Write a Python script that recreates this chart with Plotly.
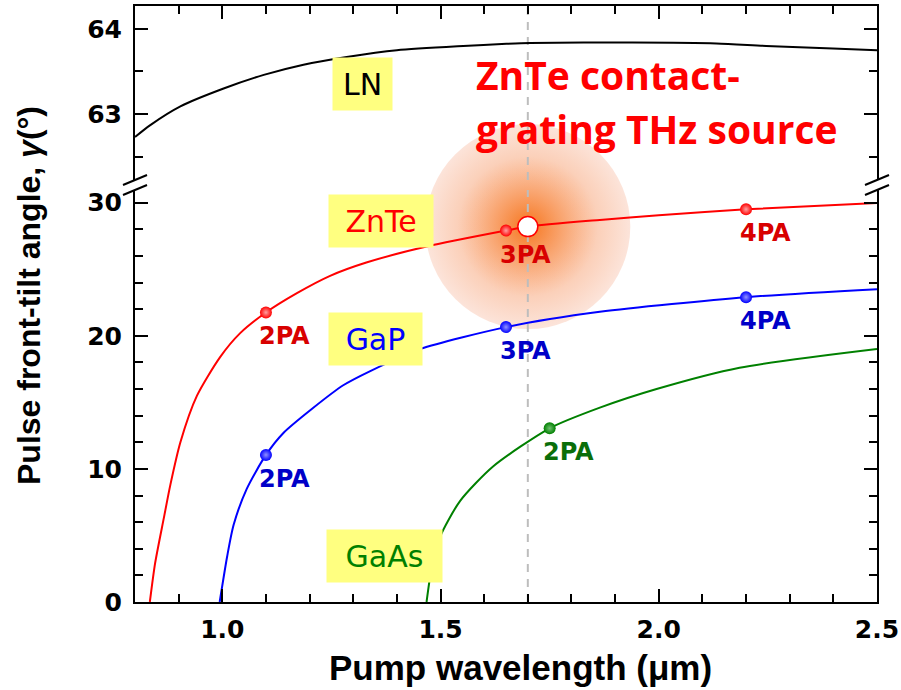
import plotly.graph_objects as go

# ---------------- data ----------------
znte_x = [0.834, 0.846, 0.866, 0.881, 0.904, 0.942, 0.995, 1.041, 1.10, 1.171, 1.247, 1.33, 1.468, 1.65, 1.70, 1.865, 2.0, 2.2, 2.5]
znte_y = [0.0, 2.9, 6.3, 8.8, 12.0, 15.5, 18.4, 20.2, 21.75, 23.2, 24.5, 25.5, 26.7, 27.9, 28.2, 28.7, 29.05, 29.5, 29.98]

gap_x = [0.994, 1.011, 1.026, 1.056, 1.10, 1.14, 1.205, 1.278, 1.339, 1.453, 1.65, 1.865, 2.2, 2.5]
gap_y = [0.0, 3.4, 5.8, 8.5, 11.05, 12.7, 14.5, 16.3, 17.35, 19.0, 20.65, 21.8, 22.9, 23.5]

gaas_x = [1.468, 1.48, 1.499, 1.545, 1.621, 1.75, 1.865, 1.995, 2.185, 2.5]
gaas_y = [0.0, 2.65, 4.9, 7.6, 10.2, 13.05, 14.6, 16.0, 17.6, 19.0]

ln_x = [0.8, 0.835, 0.904, 1.003, 1.095, 1.186, 1.285, 1.40, 1.552, 1.651, 1.705, 1.94, 2.132, 2.246, 2.399, 2.5]
ln_y = [62.73, 62.87, 63.09, 63.30, 63.46, 63.58, 63.67, 63.75, 63.80, 63.825, 63.835, 63.84, 63.83, 63.80, 63.77, 63.75]

znte_pa_x = [1.1, 1.65, 2.2]
znte_pa_y = [21.75, 27.9, 29.5]
znte_pa_lbl = ["2PA", "3PA", "4PA"]

gap_pa_x = [1.1, 1.65, 2.2]
gap_pa_y = [11.05, 20.65, 22.9]
gap_pa_lbl = ["2PA", "3PA", "4PA"]

gaas_pa_x = [1.75]
gaas_pa_y = [13.05]
gaas_pa_lbl = ["2PA"]

source_x = 1.70
source_y = 28.2

x_range = [0.8, 2.5]
y_low_range = [0, 30.95]
y_up_range = [62.224, 64.27]
x_ticks = [1.0, 1.5, 2.0, 2.5]
x_ticklabels = ["1.0", "1.5", "2.0", "2.5"]
y_low_ticks = [0, 10, 20, 30]
y_up_ticks = [63, 64]

# ---------------- styling ----------------
RED, BLUE, GREEN = "#FF0000", "#0000FF", "#008000"
RED_T, BLUE_T, GREEN_T = "#D80000", "#0000C8", "#0A6E0A"
YELLOW = "#FFFF80"

W, H = 901, 690
ML, MR, MT, MB = 135, 24, 6, 88
PW, PH = W - ML - MR, H - MT - MB
D1 = 412 / 596   # top of lower panel
D2 = 422 / 596   # bottom of upper panel

fig = go.Figure()

# glow around source point
fig.add_trace(go.Scatter(x=[source_x], y=[source_y], mode="markers", cliponaxis=False,
                         marker=dict(size=205, color="rgb(252,228,218)",
                                     gradient=dict(type="radial", color="rgb(249,165,115)"),
                                     line=dict(width=0)),
                         hoverinfo="skip", showlegend=False))
fig.add_trace(go.Scatter(x=[source_x], y=[source_y], mode="markers", cliponaxis=False,
                         marker=dict(size=140, color="rgba(250,170,120,0)",
                                     gradient=dict(type="radial", color="rgba(246,118,30,1)"),
                                     line=dict(width=0)),
                         hoverinfo="skip", showlegend=False))

# dashed vertical line at source wavelength (both panels)
dash_style = dict(color="#BDBDBD", width=2, dash="8px,7px")
fig.add_trace(go.Scatter(x=[source_x, source_x], y=y_low_range, mode="lines", line=dash_style,
                         hoverinfo="skip", showlegend=False))
fig.add_trace(go.Scatter(x=[source_x, source_x], y=y_up_range, mode="lines", line=dash_style,
                         xaxis="x2", yaxis="y2", hoverinfo="skip", showlegend=False))

# curves
spl = dict(width=2, shape="spline", smoothing=0.7)
fig.add_trace(go.Scatter(x=znte_x, y=znte_y, mode="lines", line=dict(color=RED, **spl), showlegend=False))
fig.add_trace(go.Scatter(x=gap_x, y=gap_y, mode="lines", line=dict(color=BLUE, **spl), showlegend=False))
fig.add_trace(go.Scatter(x=gaas_x, y=gaas_y, mode="lines", line=dict(color=GREEN, **spl), showlegend=False))
fig.add_trace(go.Scatter(x=ln_x, y=ln_y, mode="lines", line=dict(color="black", **spl),
                         xaxis="x2", yaxis="y2", showlegend=False))

# PA markers
for xs, ys, c, hl in [(znte_pa_x, znte_pa_y, RED, "#FFA0A0"),
                      (gap_pa_x, gap_pa_y, BLUE, "#9090FF"),
                      (gaas_pa_x, gaas_pa_y, GREEN, "#70C070")]:
    fig.add_trace(go.Scatter(x=xs, y=ys, mode="markers",
                             marker=dict(size=12, color=c, gradient=dict(type="radial", color=hl), line=dict(width=0)),
                             showlegend=False))

# source point
fig.add_trace(go.Scatter(x=[source_x], y=[source_y], mode="markers",
                         marker=dict(size=20, color="white", line=dict(color=RED, width=1.5)),
                         showlegend=False))

# PA labels
lab_font = dict(family="DejaVu Sans", size=24, weight="bold")
for xs, ys, lbls, c in [(znte_pa_x, znte_pa_y, znte_pa_lbl, RED_T),
                        (gap_pa_x, gap_pa_y, gap_pa_lbl, BLUE_T),
                        (gaas_pa_x, gaas_pa_y, gaas_pa_lbl, GREEN_T)]:
    for xv, yv, t in zip(xs, ys, lbls):
        fig.add_annotation(x=xv, y=yv, xref="x", yref="y", text=t, showarrow=False,
                           xshift=19, yshift=-24, font=dict(color=c, **lab_font))

# material labels with yellow boxes
mat_font = dict(family="DejaVu Sans", size=30)
for txt, xv, yv, yr, c, w in [("LN", 1.321, 63.35, "y2", "black", 59),
                             ("ZnTe", 1.364, 28.6, "y", RED, 104),
                             ("GaP", 1.351, 19.72, "y", BLUE, 93),
                             ("GaAs", 1.372, 3.49, "y", GREEN, 115)]:
    fig.add_annotation(x=xv, y=yv, xref="x", yref=yr, text=txt, showarrow=False,
                       bgcolor=YELLOW, width=w, height=52, borderpad=0,
                       font=dict(color=c, **mat_font))

# red headline
head_font = dict(family="Open Sans", size=39, weight="bold", color="#FF0000")
fig.add_annotation(x=1.577, y=63.46, xref="x", yref="y2", text="ZnTe contact-", showarrow=False,
                   xanchor="left", yanchor="middle", font=head_font)
fig.add_annotation(x=1.577, y=62.83, xref="x", yref="y2", text="grating THz source", showarrow=False,
                   xanchor="left", yanchor="middle", font=head_font)

# axis titles
fig.add_annotation(x=(520 - ML) / PW, y=(602 - 668) / PH, xref="paper", yref="paper",
                   text="Pump wavelength (μm)", showarrow=False, yanchor="middle",
                   font=dict(family="Liberation Sans", size=35, weight="bold", color="black"))
fig.add_annotation(x=(29 - ML) / PW, y=(602 - 296) / PH, xref="paper", yref="paper",
                   text="Pulse front-tilt angle, <i>γ</i>(°)", showarrow=False, textangle=-90,
                   xanchor="center", yanchor="middle",
                   font=dict(family="Liberation Sans", size=32, weight="bold", color="black"))

# break marks
dx, dy = 12 / PW, 5 / PH
for xc in (0, 1):
    for yc in (D1, D2):
        fig.add_shape(type="line", xref="paper", yref="paper",
                      x0=xc - dx, y0=yc - dy, x1=xc + dx, y1=yc + dy,
                      line=dict(color="black", width=2))

tick_font = dict(family="DejaVu Sans", size=25, weight="bold", color="black")
common_axis = dict(showgrid=False, zeroline=False, showline=True, linecolor="black", linewidth=2,
                   ticks="inside", ticklen=13, tickwidth=2, tickcolor="black", automargin=False)

fig.update_layout(
    width=W, height=H,
    margin=dict(l=ML, r=MR, t=MT, b=MB, autoexpand=False),
    paper_bgcolor="white", plot_bgcolor="white",
    showlegend=False,
    xaxis=dict(domain=[0, 1], range=x_range, anchor="y", tickvals=x_ticks, ticktext=x_ticklabels,
               tickfont=tick_font, ticklabelstandoff=4,
               minor=dict(tick0=0.8, dtick=0.1, ticks="inside", ticklen=8, tickwidth=2, tickcolor="black"),
               **common_axis),
    xaxis2=dict(domain=[0, 1], range=x_range, anchor="y2", matches="x", side="top",
                tickvals=x_ticks, showticklabels=False,
                minor=dict(tick0=0.8, dtick=0.1, ticks="inside", ticklen=8, tickwidth=2, tickcolor="black"),
                **common_axis),
    yaxis=dict(domain=[0, D1], range=y_low_range, anchor="x", tickvals=y_low_ticks,
               tickfont=tick_font, ticklabelstandoff=6, mirror="ticks",
               minor=dict(tick0=0, dtick=2, ticks="inside", ticklen=8, tickwidth=2, tickcolor="black"),
               **common_axis),
    yaxis2=dict(domain=[D2, 1], range=y_up_range, anchor="x2", tickvals=y_up_ticks,
                tickfont=tick_font, ticklabelstandoff=6, mirror="ticks",
                minor=dict(tick0=62, dtick=0.5, ticks="inside", ticklen=8, tickwidth=2, tickcolor="black"),
                **common_axis),
)

fig.write_html("out.html")
